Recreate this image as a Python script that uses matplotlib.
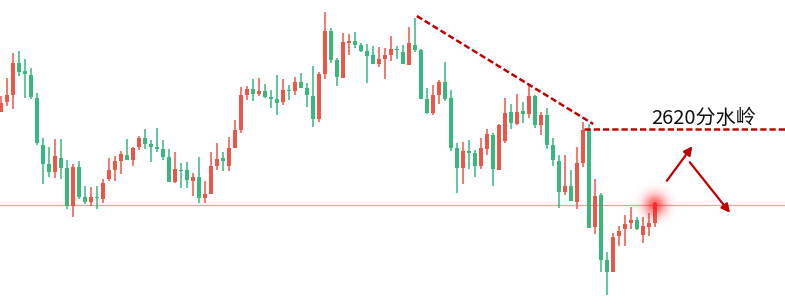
import matplotlib
matplotlib.use('Agg')
from matplotlib import pyplot as plt
import numpy as np

plt.rcParams['font.family'] = ['Noto Sans CJK SC', 'DejaVu Sans']

# candle data (price units)
opens = [2628.5, 2633.5, 2637.0, 2653.0, 2649.0, 2647.0, 2635.5, 2612.0, 2602.5, 2598.5,
         2605.5, 2600.5, 2581.5, 2601.0, 2586.0, 2583.5, 2586.0, 2585.0, 2595.0, 2599.5,
         2604.0, 2607.0, 2604.5, 2611.0, 2615.5, 2612.5, 2611.0, 2610.0, 2606.0, 2593.5,
         2599.5, 2599.5, 2594.0, 2596.0, 2585.5, 2587.5, 2601.5, 2605.5, 2601.5, 2610.5,
         2619.5, 2637.0, 2640.0, 2637.5, 2639.0, 2636.0, 2635.0, 2633.5, 2639.5, 2639.0,
         2643.5, 2640.5, 2636.5, 2625.0, 2647.5, 2669.0, 2654.5, 2645.5, 2663.0, 2664.0,
         2662.0, 2659.0, 2657.0, 2652.5, 2655.0, 2657.0, 2660.0, 2658.5, 2652.0, 2662.0,
         2659.5, 2635.0, 2628.0, 2637.0, 2643.5, 2635.5, 2610.5, 2600.5, 2609.0, 2608.0,
         2601.5, 2610.0, 2617.0, 2599.5, 2614.0, 2628.5, 2622.5, 2629.0, 2627.5, 2636.5,
         2622.0, 2627.0, 2612.0, 2604.0, 2588.5, 2591.5, 2583.5, 2603.0, 2619.5, 2571.0,
         2587.0, 2554.5, 2548.5, 2566.5, 2570.0, 2573.0, 2574.5, 2567.0, 2571.0, 2573.0]
highs = [2636.5, 2645.5, 2658.0, 2659.0, 2655.0, 2650.5, 2638.0, 2615.5, 2611.0, 2615.0,
         2615.0, 2604.5, 2602.5, 2604.0, 2591.5, 2591.0, 2591.5, 2595.0, 2605.5, 2606.5,
         2609.0, 2615.0, 2611.0, 2616.5, 2620.0, 2614.5, 2620.5, 2614.5, 2610.0, 2608.5,
         2603.0, 2603.5, 2598.0, 2606.0, 2594.0, 2608.5, 2613.0, 2608.5, 2616.0, 2624.5,
         2641.0, 2641.5, 2645.0, 2645.5, 2642.5, 2639.5, 2647.0, 2645.0, 2642.0, 2646.0,
         2648.0, 2643.0, 2651.5, 2648.5, 2678.5, 2670.5, 2655.5, 2668.0, 2667.5, 2668.5,
         2663.0, 2662.5, 2661.5, 2661.0, 2660.5, 2666.5, 2661.5, 2662.0, 2671.0, 2675.5,
         2660.0, 2640.5, 2642.0, 2644.5, 2653.5, 2639.5, 2613.0, 2613.5, 2614.5, 2609.5,
         2615.5, 2620.0, 2618.0, 2622.5, 2635.5, 2632.5, 2637.5, 2633.5, 2641.5, 2637.0,
         2628.5, 2630.5, 2615.5, 2607.0, 2607.0, 2599.5, 2611.0, 2623.5, 2622.5, 2595.0,
         2588.0, 2558.5, 2568.0, 2571.5, 2577.0, 2581.0, 2576.0, 2576.0, 2578.0, 2583.5]
lows = [2628.5, 2631.5, 2630.0, 2646.5, 2635.5, 2635.0, 2612.0, 2592.5, 2596.0, 2595.5,
        2595.0, 2580.0, 2576.0, 2585.0, 2582.5, 2581.5, 2580.0, 2583.0, 2594.0, 2594.0,
        2597.5, 2604.5, 2601.5, 2609.5, 2610.0, 2603.5, 2608.5, 2604.5, 2593.5, 2593.0,
        2590.5, 2590.5, 2586.5, 2583.0, 2583.0, 2587.5, 2599.5, 2599.0, 2599.0, 2610.5,
        2618.0, 2634.5, 2634.0, 2636.5, 2635.5, 2630.5, 2627.0, 2632.0, 2634.5, 2637.0,
        2640.5, 2631.0, 2621.0, 2623.5, 2645.0, 2653.0, 2641.5, 2645.5, 2657.0, 2660.5,
        2658.5, 2643.0, 2652.5, 2651.0, 2645.0, 2654.0, 2655.0, 2652.5, 2652.0, 2658.5,
        2635.0, 2627.5, 2627.0, 2632.5, 2634.0, 2609.0, 2588.0, 2592.5, 2600.0, 2596.0,
        2600.0, 2607.0, 2591.5, 2599.5, 2613.0, 2620.0, 2622.0, 2623.0, 2625.5, 2620.5,
        2617.0, 2610.0, 2601.5, 2580.5, 2587.0, 2584.0, 2580.0, 2601.0, 2570.5, 2567.5,
        2548.5, 2537.0, 2548.5, 2561.5, 2561.5, 2570.0, 2569.5, 2563.0, 2566.5, 2571.0]
closes = [2633.0, 2637.0, 2653.0, 2648.5, 2647.5, 2636.0, 2613.0, 2602.5, 2598.5, 2606.5,
          2600.5, 2581.5, 2601.0, 2586.0, 2583.5, 2586.0, 2585.5, 2593.0, 2599.5, 2604.0,
          2607.5, 2604.5, 2610.5, 2615.5, 2612.5, 2611.0, 2610.0, 2606.0, 2593.5, 2600.0,
          2599.0, 2594.5, 2596.0, 2585.5, 2587.5, 2601.5, 2605.0, 2604.0, 2610.5, 2619.5,
          2637.0, 2640.0, 2637.5, 2639.0, 2636.0, 2635.0, 2633.0, 2639.5, 2639.0, 2643.5,
          2640.5, 2637.0, 2625.0, 2647.5, 2669.0, 2654.5, 2646.0, 2663.5, 2664.0, 2662.0,
          2659.0, 2656.5, 2652.5, 2655.0, 2657.0, 2660.0, 2659.5, 2652.5, 2663.0, 2659.5,
          2635.0, 2628.0, 2637.0, 2643.5, 2635.0, 2610.5, 2600.5, 2609.0, 2608.0, 2601.5,
          2610.5, 2617.5, 2600.0, 2622.0, 2628.0, 2623.0, 2628.5, 2627.5, 2636.5, 2622.0,
          2627.0, 2612.0, 2604.5, 2588.5, 2591.5, 2584.0, 2603.0, 2619.5, 2570.5, 2586.5,
          2554.5, 2548.5, 2566.0, 2569.0, 2572.5, 2574.5, 2570.0, 2571.5, 2573.0, 2583.0]

support = 2582.0
watershed = 2620.0
label = '2620分水岭'
trend_x = [69.3, 98.7]
trend_y = [2676.5, 2622.5]

UP = '#EA5649'
DOWN = '#37B87E'
LINE = '#C00000'

o = np.array(opens)
h = np.array(highs)
l = np.array(lows)
c = np.array(closes)
x = np.arange(len(o))
colors = [UP if cc > oo else DOWN for oo, cc in zip(o, c)]

fig = plt.figure(figsize=(7.85, 3.06), dpi=100)
ax = fig.add_axes([0, 0, 1, 1])

ax.axhline(support, color='#E8A39C', lw=0.9, zorder=1)

ax.vlines(x, l, h, colors=colors, lw=1.1, zorder=2)
bottom = np.minimum(o, c)
height = np.maximum(np.abs(c - o), 0.6)
ax.bar(x, height, bottom=bottom, width=0.8, color=colors, zorder=3)

# soft glow on the last candle (radius in pixels: 1 px = 1/6 bar, 0.5 price)
gx, gy = np.meshgrid(np.linspace(-26, 26, 105), np.linspace(-26, 26, 105))
r = np.hypot(gx, gy)
glow = np.zeros((105, 105, 4))
glow[..., 0] = 1.0
glow[..., 1] = 0.1
glow[..., 2] = 0.1
glow[..., 3] = 0.7 * np.exp(-(r / 11.0) ** 2)
ax.imshow(glow, extent=(x[-1] - 26 / 6, x[-1] + 26 / 6, support - 13, support + 13),
          origin='lower', aspect='auto', interpolation='bilinear', zorder=4)

# resistance lines
ax.plot(trend_x, trend_y, color=LINE, lw=1.8, ls=(0, (2.5, 1.2)), zorder=5)
ax.plot([97.2, 131], [watershed, watershed], color=LINE, lw=1.8,
        ls=(0, (2.5, 1.2)), zorder=5)
ax.text(108.3, 2622.5, label, fontsize=14.5, color='#111111', va='baseline',
        ha='left', zorder=6)

# expected path
ax.annotate('', xy=(115.5, 2612.5), xytext=(110.7, 2593.0),
            arrowprops=dict(arrowstyle='-|>,head_length=0.5,head_width=0.25',
                            color=LINE, lw=1.6))
ax.annotate('', xy=(121.8, 2577.0), xytext=(114.5, 2604.5),
            arrowprops=dict(arrowstyle='-|>,head_length=0.5,head_width=0.25',
                            color=LINE, lw=1.6))

ax.set_xlim(-1 / 6, 784 / 6)
ax.set_ylim(2531.5, 2684.5)
ax.axis('off')

fig.savefig('out.png', dpi=100)
